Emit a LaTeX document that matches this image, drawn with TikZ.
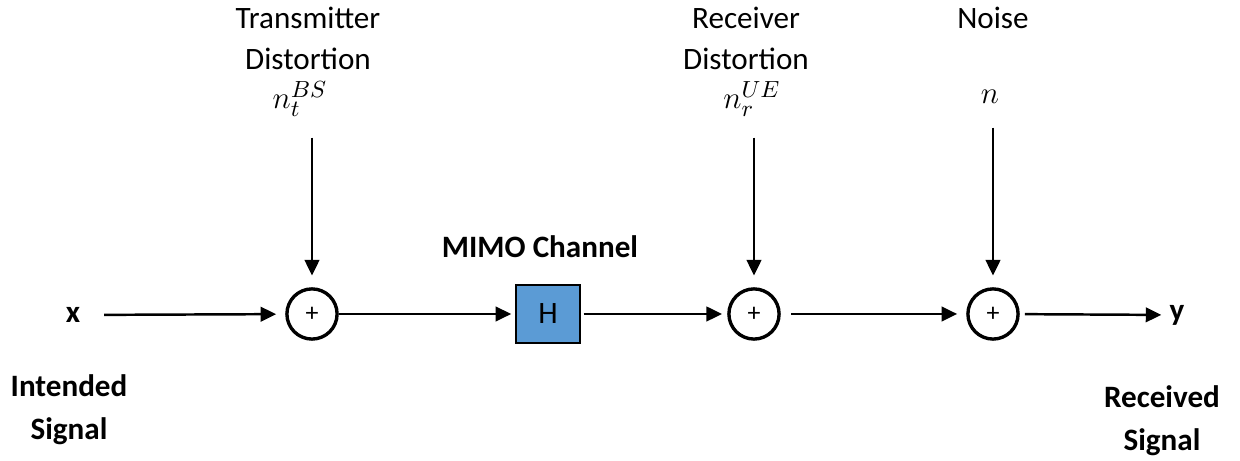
\documentclass[tikz,border=0pt]{standalone}
\usepackage{fontspec}
\setmainfont{Carlito}
\usetikzlibrary{arrows.meta, positioning}
\definecolor{chanblue}{HTML}{5B9BD5}

\begin{document}
\begin{tikzpicture}[
    x=0.01355cm, y=-0.01355cm,
    every node/.style={font=\fontsize{12}{15.8}\selectfont},
    lbl/.style={align=center, inner sep=0pt},
    mathlbl/.style={inner sep=0pt, font=\fontsize{13}{15}\selectfont},
    boldlbl/.style={align=center, inner sep=0pt,
        font=\fontsize{12}{16.5}\selectfont\bfseries},
    sum/.style={
        circle, draw, line width=1.3pt,
        minimum size=0.68cm, inner sep=0pt,
        font=\fontsize{10}{11}\selectfont
    },
    channel/.style={
        rectangle, draw, line width=0.9pt,
        fill=chanblue,
        minimum width=0.86cm, minimum height=0.78cm
    },
    arrow/.style={-{Triangle[length=6pt,width=5.6pt]}, line width=0.95pt},
]
\useasboundingbox (0,0) rectangle (1240,461);

% Nodes
\node (x) [boldlbl] at (73,315) {x};
\node (sum1) [sum] at (312,314) {\raisebox{-2pt}{+}};
\node (chan) [channel] at (548,314) {H};
\node (sum2) [sum] at (754,314) {\raisebox{-2pt}{+}};
\node (sum3) [sum] at (993,314) {\raisebox{-2pt}{+}};
\node (y) [boldlbl] at (1177,315) {y};

\node (chanlbl) [boldlbl] at (540,247) {MIMO Channel};

\node (txlbl) [lbl] at (308,38) {Transmitter\\Distortion};
\node (ntbs) [mathlbl] at (300,99) {$n_t^{BS}$};
\node (rxlbl) [lbl] at (746,38) {Receiver\\Distortion};
\node (nrue) [mathlbl] at (752,99) {$n_r^{UE}$};
\node (noiselbl) [lbl, anchor=base] at (993,29) {Noise};
\node (nlbl) [mathlbl] at (990,97) {$n$};

\node (inlbl) [boldlbl] at (69,410) {Intended\\Signal};
\node (outlbl) [boldlbl] at (1162,421) {Received\\Signal};

% Arrows
\draw [arrow, shorten <=9pt, shorten >=3.5pt] (x) -- (sum1);
\draw [arrow, shorten >=1.5pt] (sum1) -- (chan);
\draw [arrow, shorten <=1pt, shorten >=2pt] (chan) -- (sum2);
\draw [arrow, shorten <=4pt, shorten >=3.5pt] (sum2) -- (sum3);
\draw [arrow, shorten <=2pt, shorten >=3pt] (sum3) -- (y);

\draw [arrow, shorten <=8pt, shorten >=4.5pt] (sum1 |- ntbs.south) -- (sum1.north);
\draw [arrow, shorten <=8pt, shorten >=4.5pt] (sum2 |- nrue.south) -- (sum2.north);
\draw [arrow, shorten <=9pt, shorten >=4.5pt] (sum3 |- nlbl.south) -- (sum3.north);

\end{tikzpicture}
\end{document}
